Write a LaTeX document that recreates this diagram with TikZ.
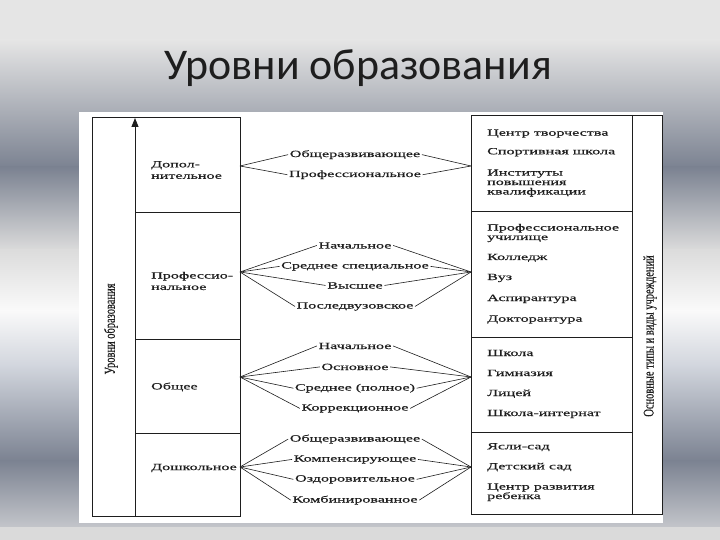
\documentclass[tikz,border=0pt]{standalone}
\usepackage{fontspec}
\setmainfont{Liberation Serif}
\newfontfamily\scanfont{Liberation Serif}[FakeStretch=1.7, FakeBold=0.5]
\newfontfamily\sidefont{Liberation Serif}[FakeStretch=0.7, FakeBold=0.4]
\newfontfamily\titlefont{Carlito}
\usetikzlibrary{arrows.meta}
\definecolor{bgA}{HTML}{E5E5E5}
\definecolor{bgB}{HTML}{7B8291}
\definecolor{bgC}{HTML}{DCDCDC}
\definecolor{bgD}{HTML}{FAFAFA}
\definecolor{bgE}{HTML}{D0D4DC}
\definecolor{bgF}{HTML}{C4C6CB}
\definecolor{bgG}{HTML}{DADADA}
\definecolor{ink}{HTML}{1E1E1E}

\begin{document}
\begin{tikzpicture}[x=1bp, y=-1bp,
    frame/.style={draw=ink, line width=0.9bp},
    fan/.style={draw=ink, line width=0.6bp},
    lvl/.style={font=\scanfont\fontsize{9.5}{11.5}\selectfont, text=ink, align=left, anchor=west, inner sep=0pt},
    kind/.style={font=\scanfont\fontsize{9.5}{11}\selectfont, text=ink, anchor=base, inner sep=1.5bp},
    inst/.style={font=\scanfont\fontsize{9.5}{9.5}\selectfont, text=ink, align=left, anchor=base west, inner sep=0pt},
    side/.style={font=\sidefont\fontsize{15}{16}\selectfont, text=ink, rotate=90, inner sep=0pt}]
  \useasboundingbox (0,0) rectangle (720,540);
  % slide background, metal bands
  \fill[bgA] (0,0) rectangle (720,41);
  \shade[top color=bgA, bottom color=bgB] (0,40) rectangle (720,168);
  \shade[top color=bgB, bottom color=bgC] (0,167) rectangle (720,251);
  \shade[top color=bgC, bottom color=bgD] (0,250) rectangle (720,311);
  \shade[top color=bgD, bottom color=bgE] (0,310) rectangle (720,368);
  \shade[top color=bgE, bottom color=bgB] (0,367) rectangle (720,461);
  \shade[top color=bgB, bottom color=bgF] (0,460) rectangle (720,528);
  \fill[bgG] (0,527) rectangle (720,540);
  \node[font=\titlefont\fontsize{44}{48}\selectfont, text=ink, anchor=base] (title) at (358,80) {Уровни образования};
  % scanned sheet
  \fill[white] (79,112) rectangle (663,523);

  % left block: levels
  \draw[frame] (92,117) rectangle (240,516);
  \draw[frame, -{Triangle[length=9bp, width=7bp]}] (135,516) -- (135,118);
  \foreach \y in {212,339,433} \draw[frame] (135,\y) -- (240,\y);
  \node[side] (axisL) at (111,329) {Уровни образования};
  \node[lvl] (dop) at (151,170) {Допол-\\нительное};
  \node[lvl] (prof) at (151,281) {Профессио-\\нальное};
  \node[lvl] (gen) at (151,387) {Общее};
  \node[lvl] (pre) at (151,468) {Дошкольное};

  % right block: institutions (y = last baseline)
  \draw[frame] (471,115) rectangle (662,514);
  \draw[frame] (632,115) -- (632,514);
  \foreach \y in {211,337,432} \draw[frame] (471,\y) -- (632,\y);
  \node[side] (axisR) at (650,336) {Основные типы и виды учреждений};
  \foreach \t/\y/\n in {Центр творчества/135.7/i1, Спортивная школа/154.3/i2,
      Институты\\повышения\\квалификации/194.5/i3, Профессиональное\\училище/240/i4,
      Колледж/260/i5, Вуз/280/i6, Аспирантура/301/i7, Докторантура/321.7/i8,
      Школа/356/i9, Гимназия/376/i10, Лицей/396/i11, Школа-интернат/416/i12,
      Ясли-сад/449.3/i13, Детский сад/469.3/i14, Центр развития\\ребенка/499/i15}
    \node[inst] (\n) at (487,\y) {\t};

  % fans between the blocks
  \coordinate (dopL) at (240,166);  \coordinate (dopR) at (471,166);
  \coordinate (profL) at (240,272); \coordinate (profR) at (471,272);
  \coordinate (genL) at (240,377);  \coordinate (genR) at (471,377);
  \coordinate (preL) at (240,467);  \coordinate (preR) at (471,467);
  \foreach \t/\y/\n/\g in {Общеразвивающее/157/d1/dop, Профессиональное/177/d2/dop,
      Начальное/248.5/p1/prof, Среднее специальное/268.5/p2/prof, Высшее/288.5/p3/prof,
      Последвузовское/308.5/p4/prof,
      Начальное/349/g1/gen, Основное/370/g2/gen, Среднее (полное)/390.5/g3/gen,
      Коррекционное/410.5/g4/gen,
      Общеразвивающее/441.5/s1/pre, Компенсирующее/461.5/s2/pre,
      Оздоровительное/481.5/s3/pre, Комбинированное/502.5/s4/pre} {
    \node[kind] (\n) at (355,\y) {\t};
    \draw[fan] (\g L) -- (\n.west);
    \draw[fan] (\n.east) -- (\g R);
  }
\end{tikzpicture}
\end{document}
